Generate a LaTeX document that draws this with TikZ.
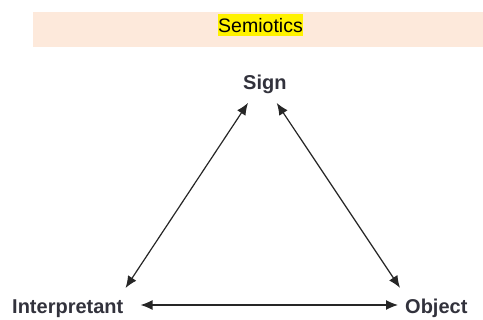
\documentclass[tikz,border=0pt]{standalone}
\definecolor{peach1}{RGB}{253, 233, 219}
\definecolor{label1}{RGB}{50, 50, 60}
\usepackage{fontspec}
\setmainfont{Liberation Sans}
\usepackage{tikz}
\usetikzlibrary{arrows.meta, positioning}

\begin{document}
\begin{tikzpicture}[x=1pt, y=-1pt,
  vertex/.style={inner sep=0pt, anchor=base west, text=label1, font=\fontsize{20}{24}\selectfont\bfseries},
  link/.style={line width=1.2pt, draw=black!85, {Latex[length=12pt,width=10pt]}-{Latex[length=12pt,width=10pt]}}]
  \useasboundingbox (0,0) rectangle (483,320);
  % banner
  \fill[peach1] (33,12) rectangle (483,47);
  \node[fill=yellow, inner sep=0pt, minimum width=85pt, minimum height=22pt, font=\fontsize{19.5}{23}\selectfont] (title) at (260.5,25.5) {Semiotics};
  % triad
  \node[vertex] (sign) at (243,89.5) {Sign};
  \node[vertex] (interp) at (12,314) {Interpretant};
  \node[vertex] (obj) at (405,314) {Object};
  \draw[link] ([xshift=5pt,yshift=-9pt]sign.south west) -- ([xshift=2pt,yshift=12pt]interp.north east);
  \draw[link] ([xshift=-10pt,yshift=-9pt]sign.south east) -- ([xshift=-5pt,yshift=11.5pt]obj.north west);
  \draw[link] ([xshift=17pt,yshift=9pt]interp.base east) -- ([xshift=-7pt,yshift=9pt]obj.base west);
\end{tikzpicture}
\end{document}
